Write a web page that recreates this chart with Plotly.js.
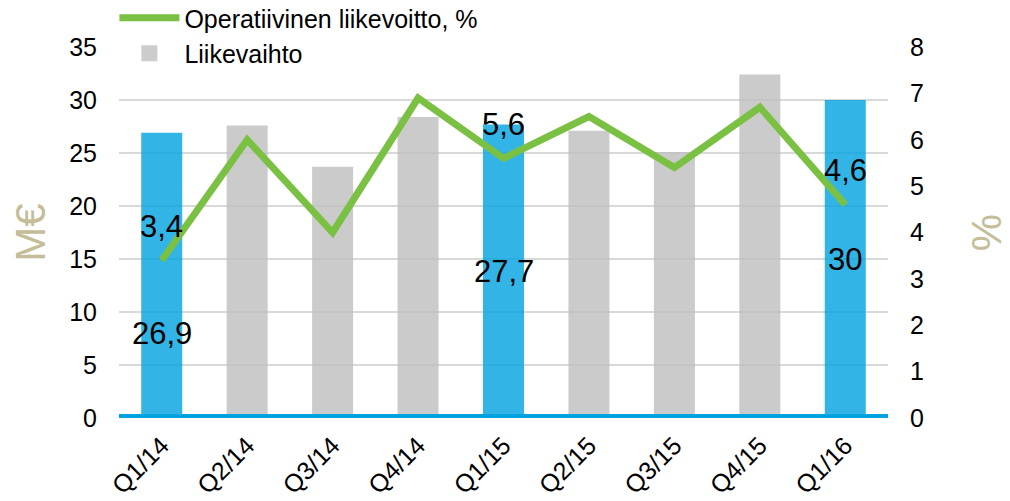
<!DOCTYPE html>
<html><head><meta charset="utf-8">
<script src="https://cdn.plot.ly/plotly-3.0.1.min.js"></script>
<style>html,body{margin:0;padding:0;background:#fff;overflow:hidden}</style>
</head><body><div id="chart" style="width:1010px;height:501px"></div>
<script>
// ---- data ----
const quarters = ['Q1/14','Q2/14','Q3/14','Q4/14','Q1/15','Q2/15','Q3/15','Q4/15','Q1/16'];
const revenue = [26.9, 27.6, 23.7, 28.4, 27.7, 27.1, 25.1, 32.4, 30.0];      // M€
const operatingMargin = [3.4, 6.0, 4.0, 6.9, 5.6, 6.5, 5.4, 6.7, 4.6];      // %
const revenueName = 'Liikevaihto';
const marginName = 'Operatiivinen liikevoitto, %';
const leftTickVals = [0, 5, 10, 15, 20, 25, 30, 35];
const rightTickVals = [0, 1, 2, 3, 4, 5, 6, 7, 8];

// ---- style ----
const FONT = 'Liberation Sans, Arial, Helvetica, sans-serif';
const BLUE = '#00A3E0', GRAY = '#BFBFBF', GREEN = '#7AC143', TAN = '#C4BD97';
const isHighlighted = q => q.startsWith('Q1');
const fmt = v => String(v).replace('.', ',');

const barColors = quarters.map(q => isHighlighted(q) ? BLUE : GRAY);

const bars = {
  type: 'bar', x: quarters, y: revenue, name: revenueName,
  marker: {color: barColors, line: {width: 0}}, opacity: 0.8,
  showlegend: false, hoverinfo: 'x+y'
};
const line = {
  type: 'scatter', mode: 'lines', x: quarters, y: operatingMargin, yaxis: 'y2',
  name: marginName, line: {color: GREEN, width: 7}
};
const legendSquare = {
  type: 'scatter', mode: 'markers', x: [null], y: [null], name: revenueName,
  marker: {symbol: 'square', size: 18, color: '#CCCCCC'}
};

const annotations = [];
quarters.forEach((q, i) => {
  if (!isHighlighted(q)) return;
  // line value label above the point
  annotations.push({x: q, y: operatingMargin[i], xref: 'x', yref: 'y2', text: fmt(operatingMargin[i]),
    showarrow: false, yshift: 34, font: {family: FONT, size: 31, color: '#000'}});
  // bar value label at bar middle (first one moved down to avoid the line label)
  annotations.push({x: q, y: revenue[i] / 2, xref: 'x', yref: 'y', text: fmt(revenue[i]),
    showarrow: false, yshift: i === 0 ? -58 : 0, font: {family: FONT, size: 31, color: '#000'}});
});

const layout = {
  width: 1010, height: 501,
  margin: {l: 119, r: 122, t: 47, b: 83, autoexpand: false},
  paper_bgcolor: '#fff', plot_bgcolor: '#fff',
  font: {family: FONT, size: 25, color: '#000'},
  bargap: 0.52,
  showlegend: true,
  legend: {x: -0.006, y: 1.14, xanchor: 'left', yanchor: 'top', traceorder: 'normal',
    font: {family: FONT, size: 25, color: '#000'}, bgcolor: 'rgba(0,0,0,0)', itemwidth: 60, tracegroupgap: 0},
  xaxis: {type: 'category', tickangle: -45, showgrid: false, zeroline: false, showline: false,
    ticks: '', ticklabelstandoff: 7, tickfont: {family: FONT, size: 25, color: '#000'}, fixedrange: true},
  yaxis: {range: [0, 35], tickvals: leftTickVals, showgrid: true, gridcolor: '#D9D9D9', gridwidth: 2,
    zeroline: false, showline: false, ticks: '', ticklabelstandoff: 21,
    tickfont: {family: FONT, size: 25, color: '#000'},
    title: {text: 'M€', font: {family: FONT, size: 42, color: TAN}, standoff: 10}, fixedrange: true},
  yaxis2: {range: [0, 8], tickvals: rightTickVals, overlaying: 'y', side: 'right', showgrid: false,
    zeroline: false, showline: false, ticks: '', ticklabelstandoff: 21,
    tickfont: {family: FONT, size: 25, color: '#000'},
    title: {text: '%', font: {family: FONT, size: 42, color: TAN}, standoff: 54}, fixedrange: true},
  shapes: [{type: 'line', xref: 'paper', x0: 0, x1: 1, yref: 'y', y0: 0, y1: 0,
    line: {color: BLUE, width: 8}, layer: 'above'}],
  annotations: annotations
};

Plotly.newPlot('chart', [bars, line, legendSquare], layout, {displayModeBar: false, staticPlot: true});
</script>
</body></html>
